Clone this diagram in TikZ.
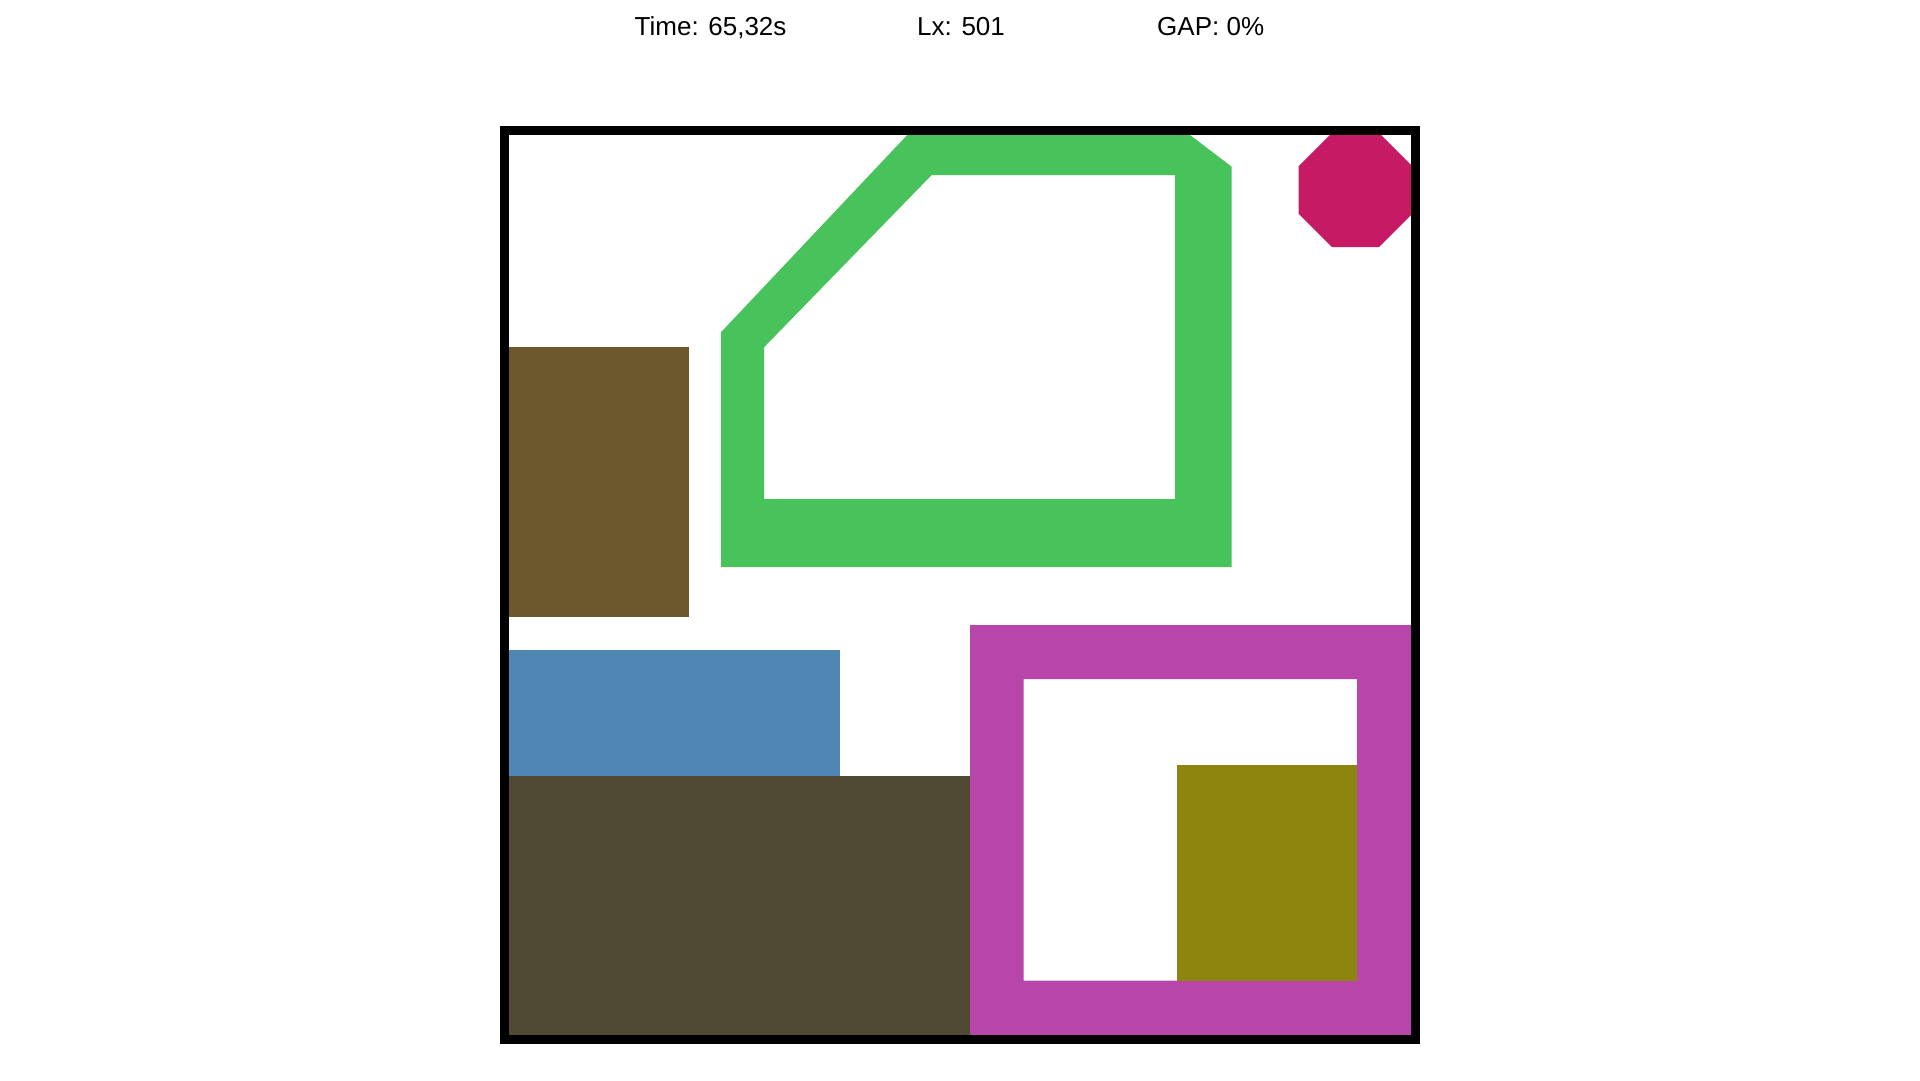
\documentclass[tikz,border=0pt]{standalone}
\usepackage{fontspec}
\setmainfont{Liberation Sans}
\definecolor{grn}{RGB}{72,195,92}
\definecolor{brn}{RGB}{108,88,44}
\definecolor{blu}{RGB}{79,134,179}
\definecolor{drk}{RGB}{80,74,50}
\definecolor{mag}{RGB}{184,69,169}
\definecolor{olv}{RGB}{142,133,14}
\definecolor{crm}{RGB}{198,26,100}
\begin{document}
\begin{tikzpicture}[x=1pt,y=-1pt,
  lbl/.style={anchor=base west, inner sep=0pt, font=\fontsize{26}{31}\selectfont},
  framebox/.style={draw=black, line width=9pt}]
\useasboundingbox (0,0) rectangle (1920,1080);
\fill[white] (0,0) rectangle (1920,1080);
% header
\node[lbl] (time) at (634.5,35.7) {Time: 65,32s};
\node[lbl] (lx) at (917,35.7) {Lx: 501};
\node[lbl] (gap) at (1157,35.7) {GAP: 0\%};
% pieces
\fill[brn] (505,347) rectangle (689,616.7);
\fill[blu] (505,650) rectangle (840,775.7);
\fill[drk] (505,775.7) rectangle (970,1039);
\fill[mag, even odd rule] (970,625) rectangle (1412,1039)
  (1023.7,679) rectangle (1357,980.7);
\fill[olv] (1177,765) rectangle (1357,980.7);
\fill[grn, even odd rule]
  (721.2,332) -- (911,131) -- (1184.7,131) -- (1231.7,166.7) -- (1231.7,567) -- (721.2,567) -- cycle
  (764,347.3) -- (931.7,175) -- (1175,175) -- (1175,499) -- (764,499) -- cycle;
\fill[crm] (1355.5,190) +(22.5:61.7) -- +(67.5:61.7) -- +(112.5:61.7) -- +(157.5:61.7)
  -- +(202.5:61.7) -- +(247.5:61.7) -- +(292.5:61.7) -- +(337.5:61.7) -- cycle;
% frame
\draw[framebox] (504.5,130.5) rectangle (1415.5,1039.5);
\end{tikzpicture}
\end{document}
